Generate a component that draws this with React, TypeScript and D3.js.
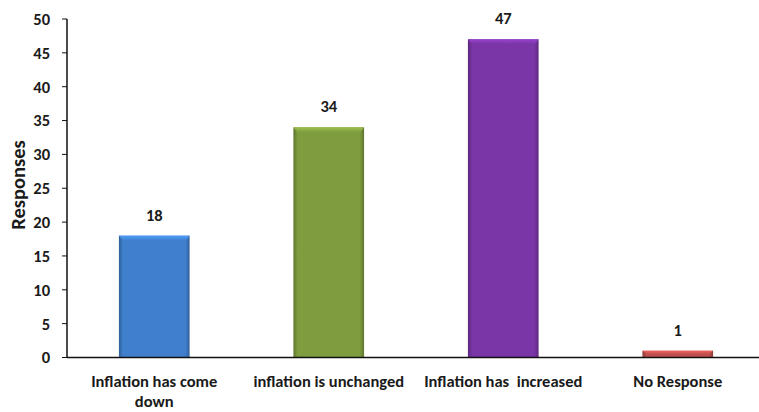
import React from "react";
import * as d3 from "d3";

const categories = ["Inflation has come down", "inflation is unchanged", "Inflation has  increased", "No Response"];
const labelLines = [["Inflation has come", "down"], ["inflation is unchanged"], ["Inflation has  increased"], ["No Response"]];
const values = [18, 34, 47, 1];
const colors = ["#3f7fcc", "#7f9c3f", "#7a35a6", "#c0504d"];
const yTicks = [0, 5, 10, 15, 20, 25, 30, 35, 40, 45, 50];

const W = 759, H = 412;
const left = 67, right = 765, top = 19, bottom = 357.5;
const font = "Carlito, Lato, 'Open Sans', sans-serif";

export default function App() {
  const x = d3.scaleBand<string>().domain(categories).range([left, right]).paddingInner(0.595).paddingOuter(0.2975);
  const y = d3.scaleLinear().domain([0, 50]).range([bottom, top]);
  const bw = x.bandwidth();
  return (
    <svg width={W} height={H} style={{ position: "absolute", left: 0, top: 0, background: "#fff" }}>
      <defs>
        {colors.map((c, i) => {
          const dark = d3.color(c)!.darker(0.8).formatHex();
          const light = d3.color(c)!.brighter(0.6).formatHex();
          return (
            <React.Fragment key={i}>
              <linearGradient id={`h${i}`} x1="0" x2="1" y1="0" y2="0">
                <stop offset="0" stopColor={dark} />
                <stop offset="0.06" stopColor={c} />
                <stop offset="0.94" stopColor={c} />
                <stop offset="1" stopColor={dark} />
              </linearGradient>
              <linearGradient id={`t${i}`} x1="0" x2="0" y1="0" y2="1">
                <stop offset="0" stopColor={light} />
                <stop offset="1" stopColor={c} />
              </linearGradient>
            </React.Fragment>
          );
        })}
      </defs>
      {categories.map((c, i) => {
        const x0 = x(c)!;
        const y0 = y(values[i]);
        const h = bottom - y0;
        const th = Math.min(5, h / 2);
        return (
          <g key={c}>
            <rect x={x0} y={y0} width={bw} height={h} fill={`url(#h${i})`} />
            <polygon points={`${x0},${y0} ${x0 + bw},${y0} ${x0 + bw - 4},${y0 + th} ${x0 + 4},${y0 + th}`} fill={`url(#t${i})`} />
            <text x={x0 + bw / 2} y={y0 - 15} textAnchor="middle" fontFamily={font} fontWeight="bold" fontSize={16.5} fill="#1a1a1a">{values[i]}</text>
            {labelLines[i].map((l, j) => (
              <text key={j} x={x0 + bw / 2} y={387 + j * 19.5} textAnchor="middle" fontFamily={font} fontWeight="bold" fontSize={16.5} fill="#1a1a1a" style={{ whiteSpace: "pre" }}>{l}</text>
            ))}
          </g>
        );
      })}
      <line x1={left} x2={W} y1={bottom} y2={bottom} stroke="#111" strokeWidth={1.5} />
      <line x1={left} x2={left} y1={top} y2={bottom} stroke="#111" strokeWidth={1.5} />
      {yTicks.map((t) => (
        <g key={t}>
          <line x1={left - 5} x2={left} y1={y(t)} y2={y(t)} stroke="#111" strokeWidth={1} />
          <text x={50} y={y(t)} dy="0.36em" textAnchor="end" fontFamily={font} fontWeight="bold" fontSize={16.5} fill="#1a1a1a">{t}</text>
        </g>
      ))}
      <text transform={`translate(25,${185}) rotate(-90)`} textAnchor="middle" fontFamily={font} fontWeight="bold" fontSize={20.5} fill="#1a1a1a">Responses</text>
    </svg>
  );
}
